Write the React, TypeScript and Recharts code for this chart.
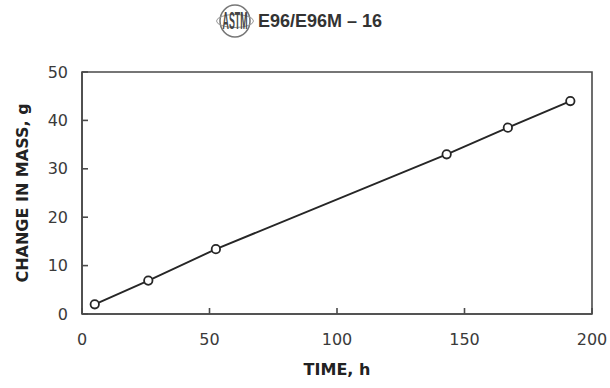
// @ts-nocheck
/**
 * MassGainChart — E96/E96M water vapor transmission: change in mass vs time
 */
import React from 'react'
import { LineChart, Line, XAxis, YAxis, ReferenceArea } from 'recharts'

const times = [5, 26, 52.5, 143, 167, 191.5]
const masses = [2.0, 6.9, 13.4, 33.0, 38.5, 44.0]
const xTicks = [0, 50, 100, 150, 200]
const yTicks = [0, 10, 20, 30, 40, 50]

const title = 'E96/E96M – 16'
const xTitle = 'TIME, h'
const yTitle = 'CHANGE IN MASS, g'

const ink = '#262626'
const frame = '#4a4a4a'
const tickFont = { fill: '#3a3a3a', fontSize: 16, fontFamily: 'DejaVu Sans' }

function AstmLogo() {
  // rough emblem: ring with the four tall letters
  return (
    <svg width={40} height={38} viewBox="0 0 40 38" style={{ position: 'absolute', left: 215, top: 2 }}>
      <ellipse cx={20} cy={19} rx={15} ry={16} fill="none" stroke="#777" strokeWidth={1.6} />
      <ellipse cx={20} cy={19} rx={18.5} ry={6.5} fill="none" stroke="#999" strokeWidth={1} />
      <g transform="translate(20 27) scale(0.55 1.45)">
        <text x={0} y={0} textAnchor="middle" fontSize={16} fontWeight="bold" fontFamily="Liberation Sans" fill="#444">ASTM</text>
      </g>
    </svg>
  )
}

export default function App() {
  const data = times.map((t, i) => ({ time: t, mass: masses[i] }))

  return (
    <div style={{ position: 'absolute', left: 0, top: 0, width: 610, height: 388, background: '#fff' }}>
      <AstmLogo />
      <div style={{
        position: 'absolute', left: 258, top: 10, fontFamily: 'Liberation Sans', fontWeight: 'bold',
        fontSize: 18, color: '#333', whiteSpace: 'nowrap', lineHeight: '22px'
      }}>
        {title}
      </div>
      <LineChart width={610} height={388} data={data} margin={{ top: 72, right: 18, bottom: 14, left: 22 }}>
        <XAxis
          dataKey="time" type="number" domain={[0, 200]} ticks={xTicks} interval={0}
          height={60} tickSize={-6} tickMargin={26}
          axisLine={{ stroke: frame, strokeWidth: 1.6 }} tickLine={{ stroke: frame, strokeWidth: 1.6 }}
          tick={tickFont}
          label={{
            content: ({ viewBox }) => (
              <text x={viewBox.x + viewBox.width / 2} y={viewBox.y + 55} dy="0.355em" textAnchor="middle"
                fontFamily="DejaVu Sans" fontWeight="bold" fontSize={16} fill="#222">{xTitle}</text>
            )
          }}
        />
        <YAxis
          type="number" domain={[0, 50]} ticks={yTicks} interval={0}
          width={60} tickSize={-6} tickMargin={20}
          axisLine={{ stroke: frame, strokeWidth: 1.6 }} tickLine={{ stroke: frame, strokeWidth: 1.6 }}
          tick={tickFont}
          label={{
            content: ({ viewBox }) => {
              const cx = 22
              const cy = viewBox.y + viewBox.height / 2
              return (
                <text x={cx} y={cy} dy="0.355em" textAnchor="middle" transform={`rotate(-90 ${cx} ${cy})`}
                  fontFamily="DejaVu Sans" fontWeight="bold" fontSize={16} fill="#222">{yTitle}</text>
              )
            }
          }}
        />
        <ReferenceArea x1={0} x2={200} y1={0} y2={50} fill="none" fillOpacity={0} stroke={frame} strokeWidth={1.6} />
        <Line
          type="linear" dataKey="mass" stroke={ink} strokeWidth={1.9}
          dot={{ r: 4.2, stroke: ink, strokeWidth: 1.8, fill: '#fff' }}
          isAnimationActive={false}
        />
      </LineChart>
    </div>
  )
}
